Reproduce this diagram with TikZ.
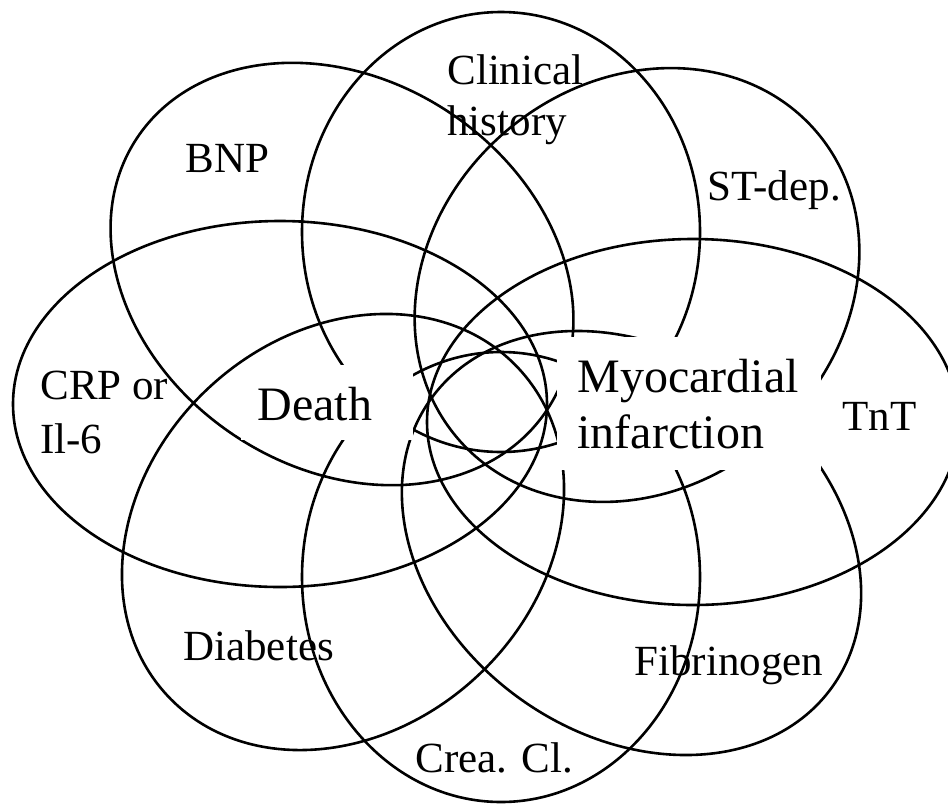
\documentclass[tikz,border=0pt]{standalone}
\usepackage{fontspec}
\setmainfont{Liberation Serif}
\begin{document}
\begin{tikzpicture}[x=0.5pt,y=-0.5pt,
  ell/.style={draw=black, line width=1.3pt},
  lab/.style={inner sep=0pt, font=\fontsize{21.5}{26}\selectfont},
  big/.style={inner sep=0pt, font=\fontsize{24}{28}\selectfont},
  mask/.style={fill=white, draw=none}]
\useasboundingbox (0,0) rectangle (948,804);
\clip (0,0) rectangle (948,804);
% horizontal and vertical petals
\draw[ell] (501,232) ellipse [x radius=99.5pt, y radius=110pt];   % Clinical history
\draw[ell] (501,577) ellipse [x radius=99.5pt, y radius=112.5pt]; % Crea. Cl.
\draw[ell] (280,404) ellipse [x radius=133.5pt, y radius=91.5pt]; % CRP
\draw[ell] (693,422) ellipse [x radius=133pt, y radius=91.5pt];   % TnT
% tilted petals
\draw[ell, rotate around={-33.5:(342,274)}] (342,274) ellipse [x radius=123pt, y radius=97pt];   % BNP
\draw[ell, rotate around={43:(343,532)}] (343,532) ellipse [x radius=120pt, y radius=98.5pt];    % Diabetes
\draw[ell, rotate around={40.4:(637,285)}] (637,285) ellipse [x radius=118pt, y radius=101pt];   % ST-dep
\draw[ell, rotate around={-35.7:(631.5,543)}] (631.5,543) ellipse [x radius=123.5pt, y radius=95.75pt]; % Fibrinogen
% label masks
\fill[mask] (241,365) rectangle (413,440);
\fill[mask] (557,337) rectangle (821,470);
% labels
\node[big, anchor=base west] (death) at (257,420) {Death};
\node[big, anchor=north west, align=left, font=\fontsize{24}{28}\selectfont] (mi) at (577,359) {Myocardial\\infarction};
\node[lab, anchor=base west] (bnp) at (185,172) {BNP};
\node[lab, anchor=north west, align=left, font=\fontsize{21.5}{25.5}\selectfont] (clin) at (447,54) {Clinical\\history};
\node[lab, anchor=base west] (st) at (707,200) {ST-dep.};
\node[lab, anchor=north west, align=left, font=\fontsize{21.5}{27}\selectfont] (crp) at (40,371) {CRP or\\Il-6};
\node[lab, anchor=base west] (tnt) at (842,430) {TnT};
\node[lab, anchor=base west] (diab) at (183,660) {Diabetes};
\node[lab, anchor=base west] (fib) at (634,675) {Fibrinogen};
\node[lab, anchor=base west] (crea) at (415,772) {Crea. Cl.};
\end{tikzpicture}
\end{document}
